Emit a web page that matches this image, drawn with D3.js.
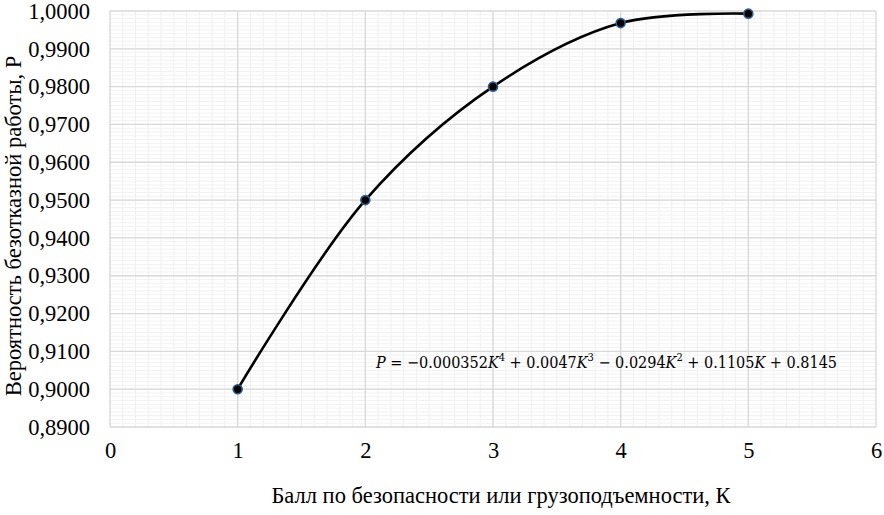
<!DOCTYPE html>
<html><head><meta charset="utf-8">
<script src="https://cdn.jsdelivr.net/npm/d3@7"></script>
<style>body{margin:0;background:#fff;overflow:hidden;}</style>
</head><body>
<svg id="c" width="884" height="515"></svg>
<script>
const kValues = [1, 2, 3, 4, 5];
const pValues = [0.9000, 0.9500, 0.9800, 0.9968, 0.9993];
const xTicks = [0, 1, 2, 3, 4, 5, 6];
const yTicks = [0.89, 0.90, 0.91, 0.92, 0.93, 0.94, 0.95, 0.96, 0.97, 0.98, 0.99, 1.00];
const xTitle = "Балл по безопасности или грузоподъемности, К";
const yTitle = "Вероятность безотказной работы, Р";

const SERIF = "Liberation Serif";
const MATH = "DejaVu Serif";
const FS = "22.5px";
const svg = d3.select("#c");
const L = 110, R = 876, T = 11, B = 427;
const x = d3.scaleLinear().domain([0, 6]).range([L, R]);
const y = d3.scaleLinear().domain([0.89, 1.0]).range([B, T]);

// minor grid
const g = svg.append("g");
g.selectAll(".mx").data(d3.range(0, 60).map(i => i / 10)).enter().append("line")
  .attr("x1", d => x(d)).attr("x2", d => x(d)).attr("y1", T).attr("y2", B)
  .attr("stroke", "#efefef").attr("stroke-width", 1);
g.selectAll(".my").data(d3.range(0, 110).map(i => 0.89 + i / 1000)).enter().append("line")
  .attr("x1", L).attr("x2", R).attr("y1", d => y(d)).attr("y2", d => y(d))
  .attr("stroke", "#f2f2f2").attr("stroke-width", 1);
// major grid
g.selectAll(".Mx").data(xTicks).enter().append("line")
  .attr("x1", d => x(d)).attr("x2", d => x(d)).attr("y1", T).attr("y2", B)
  .attr("stroke", "#d9d9d9").attr("stroke-width", 1.3);
g.selectAll(".My").data(yTicks).enter().append("line")
  .attr("x1", L).attr("x2", R).attr("y1", d => y(d)).attr("y2", d => y(d))
  .attr("stroke", "#d9d9d9").attr("stroke-width", 1.3);

// axes labels
const fmt = d => d.toFixed(4).replace(".", ",");
const yAxis = d3.axisLeft(y).tickValues(yTicks).tickFormat(fmt).tickSize(0).tickPadding(20);
const ya = svg.append("g").attr("transform", `translate(${L},0)`).call(yAxis);
ya.attr("font-family", null).attr("font-size", null);
ya.select(".domain").remove();
ya.selectAll("text").style("font-family", SERIF).style("font-size", FS).attr("fill", "#000");

const xAxis = d3.axisBottom(x).tickValues(xTicks).tickFormat(d3.format("d")).tickSize(0).tickPadding(15);
const xa = svg.append("g").attr("transform", `translate(0,${B})`).call(xAxis);
xa.attr("font-family", null).attr("font-size", null);
xa.select(".domain").remove();
xa.selectAll("text").style("font-family", SERIF).style("font-size", FS).attr("fill", "#000");

// titles
svg.append("text").attr("x", 501).attr("y", 503).attr("text-anchor", "middle")
  .style("font-family", SERIF).style("font-size", FS).text(xTitle);
svg.append("text").attr("transform", `translate(21,${(T + B) / 2 + 7}) rotate(-90)`).attr("text-anchor", "middle")
  .style("font-family", SERIF).style("font-size", FS).text(yTitle);

// line
const data = kValues.map((k, i) => [k, pValues[i]]);
const line = d3.line().x(d => x(d[0])).y(d => y(d[1])).curve(d3.curveCatmullRom.alpha(0.5));
svg.append("path").datum(data).attr("d", line).attr("fill", "none")
  .attr("stroke", "#000").attr("stroke-width", 2.6);
svg.selectAll(".pt").data(data).enter().append("circle")
  .attr("cx", d => x(d[0])).attr("cy", d => y(d[1])).attr("r", 4.5)
  .attr("fill", "#000").attr("stroke", "#2f5f8f").attr("stroke-width", 1.6);

// equation
const eq = svg.append("text").attr("x", 376).attr("y", 368)
  .style("font-family", MATH).style("font-size", "16px").attr("fill", "#000");
const parts = [
  ["P", true, false], [" = −0.000352", false, false], ["K", true, false], ["4", false, true],
  [" + 0.0047", false, false], ["K", true, false], ["3", false, true],
  [" − 0.0294", false, false], ["K", true, false], ["2", false, true],
  [" + 0.1105", false, false], ["K", true, false], [" + 0.8145", false, false]
];
parts.forEach(([t, it, sup], i) => {
  const ts = eq.append("tspan").text(t);
  if (it) ts.style("font-style", "italic");
  if (sup) ts.style("font-size", "11px").attr("dy", -7);
  else if (i > 0 && parts[i - 1][2]) ts.attr("dy", 7);
});
eq.attr("textLength", 461).attr("lengthAdjust", "spacingAndGlyphs");
</script>
</body></html>
